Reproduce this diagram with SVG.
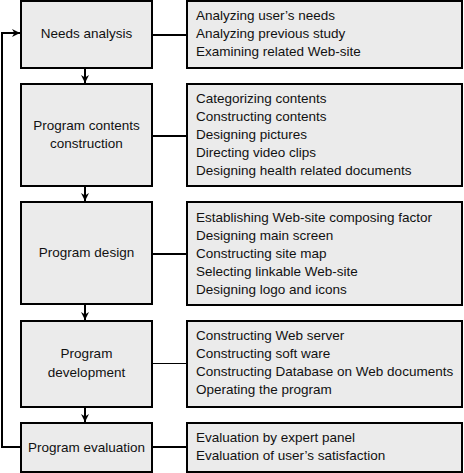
<svg xmlns="http://www.w3.org/2000/svg" width="464" height="473" viewBox="0 0 464 473">
<defs>
<style>
.box{fill:#ebebeb;stroke:#000;stroke-width:2}
.lbl{font-family:"Liberation Sans",Arial,sans-serif;font-size:13.5px;fill:#111;text-anchor:middle}
.itm{font-family:"Liberation Sans",Arial,sans-serif;font-size:13.5px;fill:#111}
.ln{stroke:#000;stroke-width:2;fill:none}
.thin{stroke:#000;stroke-width:1;fill:none}
</style>
<marker id="ah" viewBox="0 0 10 10" refX="10" refY="5" markerWidth="8" markerHeight="8" markerUnits="userSpaceOnUse" orient="auto">
<path d="M0,0 L10,5 L0,10 L3,5 Z" fill="#000"/>
</marker>
</defs>
<rect width="464" height="473" fill="#fff"/>
<g id="connectors">
<line class="ln" x1="85" y1="68" x2="85" y2="83" marker-end="url(#ah)"/>
<line class="ln" x1="85" y1="186" x2="85" y2="201" marker-end="url(#ah)"/>
<line class="ln" x1="85" y1="304" x2="85" y2="320" marker-end="url(#ah)"/>
<line class="ln" x1="85" y1="407" x2="85" y2="422" marker-end="url(#ah)"/>
<line class="ln" x1="152" y1="35" x2="187" y2="35"/>
<line class="ln" x1="152" y1="136" x2="187" y2="136"/>
<line class="ln" x1="152" y1="254" x2="187" y2="254"/>
<line class="thin" x1="152" y1="363.5" x2="187" y2="363.5"/>
<line class="ln" x1="152" y1="447" x2="187" y2="447"/>
<polyline class="ln" points="21,447 2,447 2,33 20,33" marker-end="url(#ah)"/>
</g>
<g id="needs-analysis">
<rect class="box" x="21" y="1" width="131" height="67"/>
<text class="lbl" x="86.5" y="38">Needs analysis</text>
</g>
<g id="needs-analysis-items">
<rect class="box" x="187" y="1" width="275" height="67"/>
<text class="itm" x="196" y="19.5">Analyzing user’s needs</text>
<text class="itm" x="196" y="38">Analyzing previous study</text>
<text class="itm" x="196" y="56">Examining related Web-site</text>
</g>
<g id="program-contents">
<rect class="box" x="21" y="84" width="131" height="102"/>
<text class="lbl" x="86.5" y="130">Program contents</text>
<text class="lbl" x="86.5" y="147.5">construction</text>
</g>
<g id="program-contents-items">
<rect class="box" x="187" y="84" width="275" height="102"/>
<text class="itm" x="196" y="103">Categorizing contents</text>
<text class="itm" x="196" y="121">Constructing contents</text>
<text class="itm" x="196" y="139">Designing pictures</text>
<text class="itm" x="196" y="157">Directing video clips</text>
<text class="itm" x="196" y="175">Designing health related documents</text>
</g>
<g id="program-design">
<rect class="box" x="21" y="202" width="131" height="102"/>
<text class="lbl" x="86.5" y="257">Program design</text>
</g>
<g id="program-design-items">
<rect class="box" x="187" y="202" width="275" height="103"/>
<text class="itm" x="196" y="221.5">Establishing Web-site composing factor</text>
<text class="itm" x="196" y="239.5">Designing main screen</text>
<text class="itm" x="196" y="257.5">Constructing site map</text>
<text class="itm" x="196" y="275.5">Selecting linkable Web-site</text>
<text class="itm" x="196" y="293.5">Designing logo and icons</text>
</g>
<g id="program-development">
<rect class="box" x="21" y="321" width="131" height="86"/>
<text class="lbl" x="86.5" y="358">Program</text>
<text class="lbl" x="86.5" y="376.5">development</text>
</g>
<g id="program-development-items">
<rect class="box" x="187" y="321" width="275" height="86"/>
<text class="itm" x="196" y="339.5">Constructing Web server</text>
<text class="itm" x="196" y="357.5">Constructing soft ware</text>
<text class="itm" x="196" y="376">Constructing Database on Web documents</text>
<text class="itm" x="196" y="394">Operating the program</text>
</g>
<g id="program-evaluation">
<rect class="box" x="21" y="423" width="131" height="49"/>
<text class="lbl" x="86.5" y="451.5">Program evaluation</text>
</g>
<g id="program-evaluation-items">
<rect class="box" x="187" y="423" width="275" height="49"/>
<text class="itm" x="196" y="442">Evaluation by expert panel</text>
<text class="itm" x="196" y="460">Evaluation of user’s satisfaction</text>
</g>
</svg>
